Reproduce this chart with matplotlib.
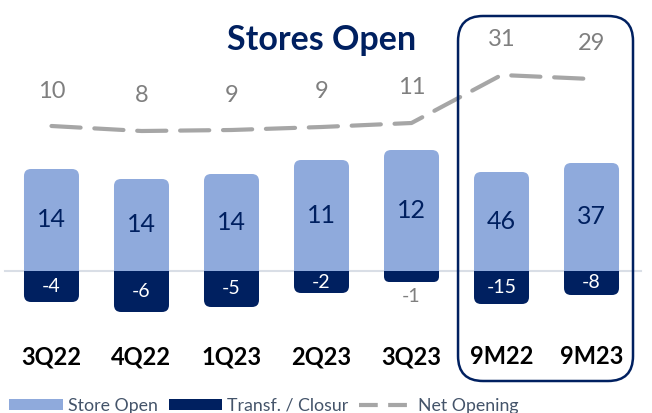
import matplotlib
matplotlib.use("Agg")
import matplotlib.pyplot as plt
from matplotlib.patches import FancyBboxPatch, Rectangle, Patch
from matplotlib.lines import Line2D

plt.rcParams['font.family'] = ['Lato', 'DejaVu Sans']

# data
periods = ["3Q22", "4Q22", "1Q23", "2Q23", "3Q23", "9M22", "9M23"]
store_open = [14, 14, 14, 11, 12, 46, 37]
closures = [-4, -6, -5, -2, -1, -15, -8]
net_opening = [10, 8, 9, 9, 11, 31, 29]
# the source chart is not drawn to scale, these are the drawn heights
open_drawn = [102, 92, 97, 111, 121, 99, 108]
closure_drawn = [-31, -41, -36, -22, -11, -33, -24]
net_drawn = [145, 140, 141, 144, 148, 196, 192]

LIGHT = "#8FAADC"
NAVY = "#002060"
GREY = "#A6A6A6"
TXT_GREY = "#7F7F7F"

fig = plt.figure(figsize=(6.52, 4.13), dpi=100)
ax = fig.add_axes([0, 0, 1, 1])
ax.set_xlim(-0.572, 6.672)
ax.set_ylim(-142, 271)
ax.axis("off")

w = 55 / 90
asp = 90  # y units per x unit (pixel scale)
r = 7 / 90

ax.plot([-0.52, 6.55], [0, 0], color="#D9DEE6", lw=1.5, zorder=1)

for i in range(len(periods)):
    h = open_drawn[i]
    ax.add_patch(FancyBboxPatch((i - w / 2, 0), w, h,
                                boxstyle=f"round,pad=0,rounding_size={r}",
                                mutation_aspect=asp, fc=LIGHT, ec="none", zorder=2))
    ax.add_patch(Rectangle((i - w / 2, 0), w, h / 2, fc=LIGHT, ec="none", zorder=2))
    ax.text(i, h / 2, str(store_open[i]), ha="center", va="center",
            fontsize=18, color=NAVY, zorder=5)

    d = closure_drawn[i]
    ax.add_patch(FancyBboxPatch((i - w / 2, d), w, -d,
                                boxstyle=f"round,pad=0,rounding_size={min(r, -d / asp / 2)}",
                                mutation_aspect=asp, fc=NAVY, ec="none", zorder=2))
    ax.add_patch(Rectangle((i - w / 2, d / 2), w, -d / 2, fc=NAVY, ec="none", zorder=2))
    if closures[i] == -1:
        ax.text(i, d - 14, str(closures[i]), ha="center", va="center",
                fontsize=14, color=TXT_GREY, zorder=5)
    else:
        ax.text(i, d / 2, str(closures[i]), ha="center", va="center",
                fontsize=14, color="white", zorder=5)

    ax.text(i, net_drawn[i] + 35, str(net_opening[i]), ha="center", va="center",
            fontsize=17, color=TXT_GREY, zorder=5)
    ax.text(i, -86, periods[i], ha="center", va="center",
            fontsize=17, fontweight="bold", color="black", zorder=5)

ax.plot(range(len(periods)), net_drawn, color=GREY, lw=3,
        dashes=(7, 3.3), solid_capstyle="round", dash_capstyle="round", zorder=3)

# highlight box around the 9M columns
ax.add_patch(FancyBboxPatch((4.517, -110), 6.461 - 4.517, 365,
                            boxstyle=f"round,pad=0,rounding_size={25 / 90}",
                            mutation_aspect=asp, fc="none", ec=NAVY, lw=1.8, zorder=4))

ax.text(3.0, 231, "Stores Open", ha="center", va="center",
        fontsize=24.5, fontweight="bold", color=NAVY)

handles = [Patch(fc=LIGHT, ec="none"), Patch(fc=NAVY, ec="none"),
           Line2D([], [], color=GREY, lw=3, dashes=(4.5, 2.5))]
fig.legend(handles, ["Store Open", "Transf. / Closur", "Net Opening"],
           loc="lower left", bbox_to_anchor=(-0.01, -0.04), ncol=3, frameon=False,
           fontsize=12.8, handlelength=3.0, handleheight=0.6, handletextpad=0.3,
           columnspacing=0.6, labelcolor="#44546A")

fig.savefig("out.png", dpi=100)
